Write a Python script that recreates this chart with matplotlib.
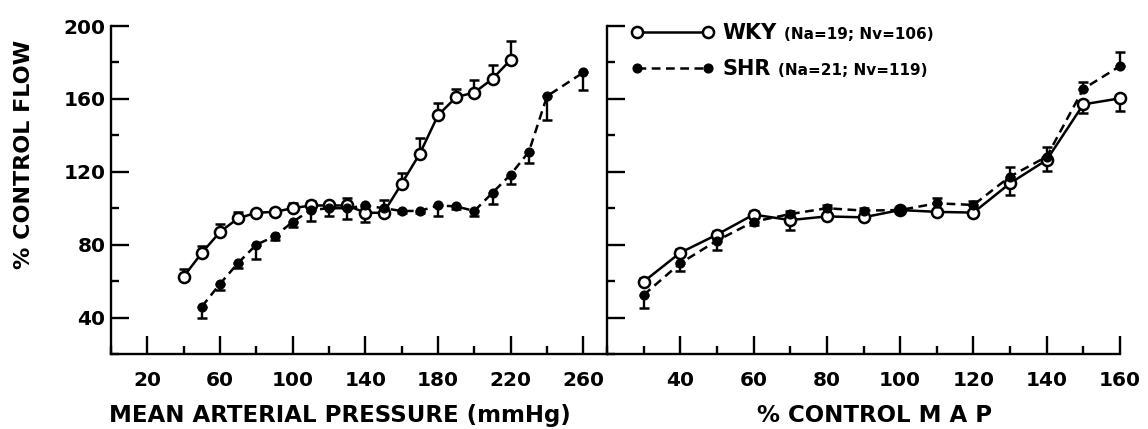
import numpy as np
import matplotlib.pyplot as plt
from matplotlib.ticker import MultipleLocator

plt.rcParams['font.family'] = ['DejaVu Sans']
plt.rcParams['font.weight'] = 'bold'
plt.rcParams['axes.labelweight'] = 'bold'

# left panel: % control flow vs mean arterial pressure (mmHg)
wky_map = [40, 50, 60, 70, 80, 90, 100, 110, 120, 130, 140, 150, 160, 170, 180, 190, 200, 210, 220]
wky_flow = [62.5, 75.5, 87, 94.5, 97.5, 98, 100, 101.5, 101.5, 101.5, 97.5, 97.5, 113.5, 130, 151, 161, 163.5, 171, 181.5]
wky_up = [4, 4, 4.5, 3.5, 1.5, 1, 3, 2.5, 1.5, 4, 0, 7, 6, 8.5, 7, 4.5, 7, 7.5, 10]
wky_dn = [0, 0, 0, 0, 0, 0, 0, 0, 0, 0, 5, 0, 0, 0, 0, 0, 0, 0, 0]

shr_map = [50, 60, 70, 80, 90, 100, 110, 120, 130, 140, 150, 160, 170, 180, 190, 200, 210, 220, 230, 240, 260]
shr_flow = [46, 58.5, 70, 80, 84.5, 92.5, 99, 100, 100, 101.5, 100, 98.5, 98.5, 101.5, 101, 98.5, 108.5, 118.5, 131, 161.5, 174.5]
shr_up = [0, 0, 0, 0, 0, 0, 0, 0, 0, 0, 0, 0, 0, 0, 0, 0, 0, 0, 0, 0, 0]
shr_dn = [6, 3.5, 3, 8, 2, 3, 6, 4.5, 6, 1, 1, 1, 1, 6, 1.5, 3, 6, 5, 6, 13, 9.5]

# right panel: % control flow vs % control MAP
pct_map = [30, 40, 50, 60, 70, 80, 90, 100, 110, 120, 130, 140, 150, 160]
wky_pflow = [59.7, 75.6, 85.5, 96.5, 93.5, 95.5, 95, 99, 98, 97.6, 113.7, 126.5, 157, 160.3]
wky_pup = [2, 2, 2, 2, 0, 1.5, 1.5, 0, 1.5, 1, 0, 0, 0, 0]
wky_pdn = [0, 0, 0, 0, 5.5, 0, 0, 0, 0, 0, 6.5, 6, 5, 7]
shr_pflow = [52.4, 69.8, 82.2, 92.6, 96.8, 100, 98.7, 99, 102.7, 101.8, 117.4, 128.3, 165.5, 178]
shr_pup = [0, 0, 0, 0, 1.5, 1.5, 1.5, 1, 3, 2, 5, 5.5, 4, 8]
shr_pdn = [7, 4, 5, 2, 0, 0, 0, 0, 0, 0, 0, 0, 0, 0]

ticks_left = ['20', '60', '100', '140', '180', '220', '260']
ticks_right = ['40', '60', '80', '100', '120', '140', '160']
ticks_y = ['40', '80', '120', '160', '200']


def draw_series(ax, x, y, lo, hi, filled):
    x = np.array(x)
    y = np.array(y)
    lo = np.array(lo)
    hi = np.array(hi)
    m = (lo + hi) > 0
    ax.errorbar(x[m], y[m], yerr=[lo[m], hi[m]], fmt='none', ecolor='black',
                elinewidth=1.7, capsize=3.8, capthick=1.8, zorder=3, clip_on=False)
    if filled:
        line, = ax.plot(x, y, color='black', lw=1.8, ls=(0, (3.5, 2.2)), marker='o',
                        ms=6.3, mfc='black', mec='black', zorder=5, clip_on=False)
    else:
        line, = ax.plot(x, y, color='black', lw=1.8, ls='-', marker='o', ms=8,
                        mfc='white', mec='black', mew=1.8, zorder=4, clip_on=False)
    return line


fig = plt.figure(figsize=(11.48, 4.29), dpi=100)
W, H = 1148, 429
ax1 = fig.add_axes([111 / W, 1 - 354 / H, 496 / W, 328 / H])
ax2 = fig.add_axes([607 / W, 1 - 354 / H, 513 / W, 328 / H])

draw_series(ax1, wky_map, wky_flow, wky_dn, wky_up, False)
draw_series(ax1, shr_map, shr_flow, shr_dn, shr_up, True)
l_wky = draw_series(ax2, pct_map, wky_pflow, wky_pdn, wky_pup, False)
l_shr = draw_series(ax2, pct_map, shr_pflow, shr_pdn, shr_pup, True)

for ax in (ax1, ax2):
    ax.set_ylim(20, 200)
    for s in ('top', 'right'):
        ax.spines[s].set_visible(False)
    for s in ('left', 'bottom'):
        ax.spines[s].set_linewidth(1.7)
    ax.yaxis.set_major_locator(MultipleLocator(40))
    ax.yaxis.set_minor_locator(MultipleLocator(20))
    ax.tick_params(which='both', direction='in', width=1.7)
    ax.tick_params(which='major', length=13)
    ax.tick_params(which='minor', length=6)
    ax.tick_params(axis='x', pad=12, labelsize=14.5)
    ax.tick_params(axis='y', pad=4, labelsize=14.5)

ax1.set_xlim(0, 273)
ax1.set_xticks([20, 60, 100, 140, 180, 220, 260])
ax1.set_xticklabels(ticks_left)
ax1.xaxis.set_minor_locator(MultipleLocator(40))
ax1.set_yticks([40, 80, 120, 160, 200])
ax1.set_yticklabels(ticks_y)

ax2.set_xlim(20, 160)
ax2.set_xticks([40, 60, 80, 100, 120, 140, 160])
ax2.set_xticklabels(ticks_right)
ax2.xaxis.set_minor_locator(MultipleLocator(10))
ax2.tick_params(axis='y', labelleft=False)

ax1.set_ylabel('% CONTROL FLOW', fontsize=16, va='center')
ax1.yaxis.set_label_coords(-0.175, 0.607)
ax1.set_xlabel('MEAN ARTERIAL PRESSURE (mmHg)', fontsize=16.5, va='center')
ax1.xaxis.set_label_coords(0.462, -0.186)
ax2.set_xlabel('% CONTROL M A P', fontsize=16.5, va='center')
ax2.xaxis.set_label_coords(0.522, -0.186)

leg = ax2.legend([l_wky, l_shr], ['WKY', 'SHR'], loc='upper left', bbox_to_anchor=(0.047, 1.009),
                 frameon=False, numpoints=2, handlelength=3.97, handletextpad=0.43,
                 labelspacing=0.76, borderpad=0, borderaxespad=0,
                 prop={'size': 15, 'weight': 'bold'})
extras = ['(Na=19; Nv=106)', '(Na=21; Nv=119)']
for t, s in zip(leg.get_texts(), extras):
    ax2.annotate(s, xy=(1, 0.42), xycoords=t, xytext=(5, 0), textcoords='offset points',
                 ha='left', va='center', fontsize=11, zorder=6)

fig.savefig('out.png', dpi=100)
